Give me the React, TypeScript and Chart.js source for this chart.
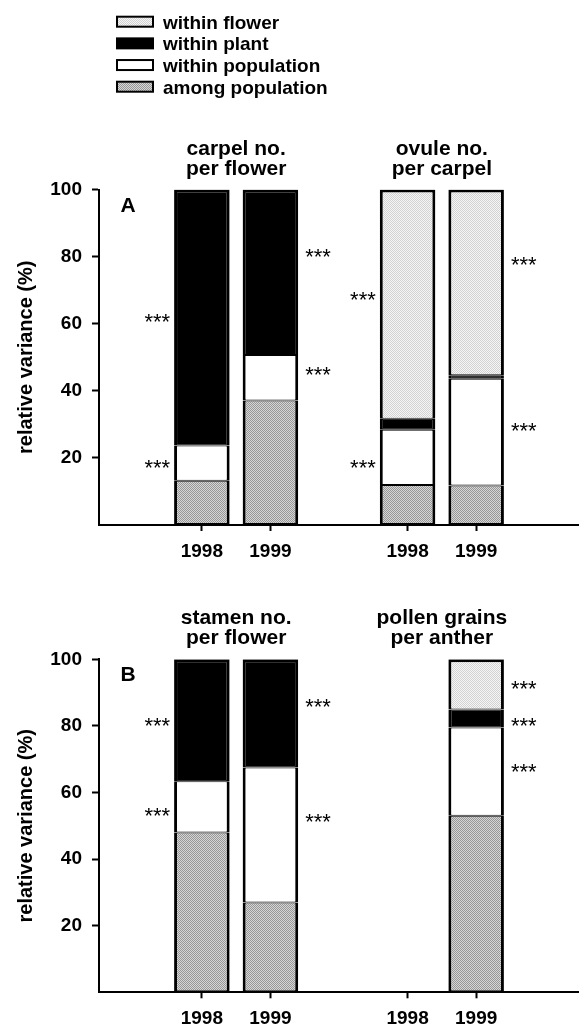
import React, { useEffect, useRef } from 'react';
import { Chart, registerables } from 'chart.js';

Chart.register(...registerables);

const FONT = '"Liberation Sans", Arial, Helvetica, sans-serif';

// ---- data ----
const categories = ['', '1998', '1999', '', '1998', '1999', ''];
const yTicks = [20, 40, 60, 80, 100];
const seriesNames = ['among population', 'within population', 'within plant', 'within flower'];
const legendOrder = ['within flower', 'within plant', 'within population', 'among population'];

// panel A (carpel no. per flower | ovule no. per carpel)
const amongA = [null, 13.2, 37.1, null, 11.9, 11.8, null];
const withinPopA = [null, 10.5, 13.6, null, 16.5, 31.8, null];
const withinPlantA = [null, 76.3, 49.3, null, 3.3, 1.0, null];
const withinFlowerA = [null, 0, 0, null, 68.3, 55.4, null];

// panel B (stamen no. per flower | pollen grains per anther)
const amongB = [null, 48.0, 27.0, null, null, 53.0, null];
const withinPopB = [null, 15.4, 40.5, null, null, 26.5, null];
const withinPlantB = [null, 36.6, 32.5, null, null, 5.4, null];
const withinFlowerB = [null, 0, 0, null, null, 15.1, null];

const groupTitlesA = [['carpel no.', 'per flower'], ['ovule no.', 'per carpel']];
const groupTitlesB = [['stamen no.', 'per flower'], ['pollen grains', 'per anther']];

// significance marks: category index, side of bar, value (%)
const starCatsA = [1, 1, 2, 2, 4, 4, 5, 5];
const starSidesA = ['left', 'left', 'right', 'right', 'left', 'left', 'right', 'right'];
const starValsA = [62.2, 18.6, 81.5, 46.3, 68.6, 18.7, 79.0, 29.7];

const starCatsB = [1, 1, 2, 2, 5, 5, 5];
const starSidesB = ['left', 'left', 'right', 'right', 'right', 'right', 'right'];
const starValsB = [81.7, 54.5, 87.3, 52.7, 92.7, 81.7, 67.9];

// ---- fills ----
function makePattern(c1: string, c2: string) {
  const cv = document.createElement('canvas');
  cv.width = 8;
  cv.height = 8;
  const g = cv.getContext('2d')!;
  for (let i = 0; i < 8; i++) {
    for (let j = 0; j < 8; j++) {
      g.fillStyle = (i + j) % 2 === 0 ? c1 : c2;
      g.fillRect(i, j, 1, 1);
    }
  }
  const base = document.createElement('canvas').getContext('2d')!;
  return base.createPattern(cv, 'repeat') as CanvasPattern;
}

function makeFills() {
  const among = makePattern('#979797', '#d6d6d6');
  const flower = makePattern('#d2d2d2', '#f6f6f6');
  return { among, pop: '#ffffff', plant: '#000000', flower };
}

function borderFor(ctx: any) {
  const i = ctx.dataIndex;
  const d = ctx.datasetIndex;
  const ds = ctx.chart.data.datasets;
  let isTop = true;
  for (let k = d + 1; k < ds.length; k++) {
    const v = ds[k].data[i];
    if (v != null && v > 0) isTop = false;
  }
  return { left: 3, right: 3, top: isTop ? 3 : 1, bottom: d === 0 ? 2 : 1 };
}

function decorPlugin(
  titles: string[][],
  letter: string,
  starCats: number[],
  starSides: string[],
  starVals: number[],
  legend: any
) {
  return {
    id: 'decor',
    afterDraw(chart: any) {
      const { ctx, chartArea } = chart;
      const x = chart.scales.x;
      const y = chart.scales.y;
      ctx.save();
      ctx.fillStyle = '#000';
      // group titles
      ctx.font = `bold 21px ${FONT}`;
      ctx.textAlign = 'center';
      ctx.textBaseline = 'alphabetic';
      titles.forEach((lines, g) => {
        const cx = (x.getPixelForValue(g * 3 + 1) + x.getPixelForValue(g * 3 + 2)) / 2;
        lines.forEach((t, li) => ctx.fillText(t, cx, chartArea.top - 35 + li * 20));
      });
      // panel letter
      ctx.textAlign = 'center';
      ctx.fillText(letter, chartArea.left + 29, chartArea.top + 22);
      // asterisks
      const meta = chart.getDatasetMeta(0);
      ctx.font = `22px ${FONT}`;
      starCats.forEach((ci, k) => {
        const el = meta.data[ci];
        const half = el.width / 2;
        const py = y.getPixelForValue(starVals[k]) + 12.5;
        if (starSides[k] === 'left') {
          ctx.textAlign = 'right';
          ctx.fillText('***', el.x - half - 4, py);
        } else {
          ctx.textAlign = 'left';
          ctx.fillText('***', el.x + half + 7, py);
        }
      });
      // legend
      if (legend) {
        ctx.font = `bold 19px ${FONT}`;
        ctx.textAlign = 'left';
        legendOrder.forEach((name, r) => {
          const cy = 21.7 + r * 21.67;
          const f = legend[name];
          ctx.fillStyle = f;
          ctx.fillRect(117, cy - 5, 36, 10);
          ctx.strokeStyle = '#000';
          ctx.lineWidth = 2;
          ctx.strokeRect(117, cy - 5, 36, 10);
          ctx.fillStyle = '#000';
          ctx.fillText(name, 163, cy + 6.8);
        });
      }
      ctx.restore();
    },
  };
}

function buildChart(
  canvas: HTMLCanvasElement,
  series: (number | null)[][],
  padTop: number,
  xHeight: number,
  plugin: any,
  fills: any
) {
  const fillList = [fills.among, fills.pop, fills.plant, fills.flower];
  const datasets = series.map((data, i) => ({
    label: seriesNames[i],
    data,
    backgroundColor: fillList[i],
    borderColor: '#000',
    borderWidth: (c: any) => borderFor(c),
    borderSkipped: false,
    barPercentage: 0.81,
    categoryPercentage: 1,
    stack: 's',
  }));
  return new Chart(canvas, {
    type: 'bar',
    data: { labels: categories, datasets },
    options: {
      responsive: false,
      animation: false,
      devicePixelRatio: 1,
      layout: { padding: { top: padTop, left: 0, right: 0, bottom: 0 } },
      plugins: { legend: { display: false }, tooltip: { enabled: false } },
      scales: {
        x: {
          type: 'category',
          stacked: true,
          offset: true,
          grid: {
            offset: false,
            drawOnChartArea: false,
            drawTicks: true,
            tickLength: 6,
            tickWidth: 2,
            tickColor: (c: any) => (categories[c.index] ? '#000' : 'rgba(0,0,0,0)'),
          },
          border: { display: true, color: '#000', width: 2 },
          ticks: {
            color: '#000',
            font: { family: FONT, size: 19, weight: 'bold' },
            padding: 9,
            autoSkip: false,
            maxRotation: 0,
          },
          afterFit: (s: any) => {
            s.height = xHeight;
          },
        },
        y: {
          stacked: true,
          min: 0,
          max: 100,
          afterBuildTicks: (s: any) => {
            s.ticks = yTicks.map((v) => ({ value: v }));
          },
          grid: {
            drawOnChartArea: false,
            drawTicks: true,
            tickLength: 7,
            tickWidth: 2,
            tickColor: '#000',
          },
          border: { display: true, color: '#000', width: 2 },
          ticks: {
            color: '#000',
            font: { family: FONT, size: 19, weight: 'bold' },
            padding: 10,
          },
          title: {
            display: true,
            text: 'relative variance (%)',
            color: '#000',
            font: { family: FONT, size: 20, weight: 'bold', lineHeight: 1.2 },
            padding: { top: 14, bottom: 0 },
          },
          afterFit: (s: any) => {
            s.width = 99;
          },
        },
      },
    },
    plugins: [plugin],
  } as any);
}

export default function App() {
  const refA = useRef<HTMLCanvasElement>(null);
  const refB = useRef<HTMLCanvasElement>(null);

  useEffect(() => {
    const fills = makeFills();
    const legendFills = {
      'within flower': fills.flower,
      'within plant': fills.plant,
      'within population': fills.pop,
      'among population': fills.among,
    };
    const a = buildChart(
      refA.current!,
      [amongA, withinPopA, withinPlantA, withinFlowerA],
      189.5,
      55,
      decorPlugin(groupTitlesA, 'A', starCatsA, starSidesA, starValsA, legendFills),
      fills
    );
    const b = buildChart(
      refB.current!,
      [amongB, withinPopB, withinPlantB, withinFlowerB],
      79.3,
      36.7,
      decorPlugin(groupTitlesB, 'B', starCatsB, starSidesB, starValsB, null),
      fills
    );
    return () => {
      a.destroy();
      b.destroy();
    };
  }, []);

  return (
    <div style={{ position: 'absolute', left: 0, top: 0, width: 579, height: 1029, background: '#fff', overflow: 'hidden' }}>
      <canvas ref={refA} width={579} height={580} style={{ position: 'absolute', left: 0, top: 0, display: 'block' }} />
      <canvas ref={refB} width={579} height={449} style={{ position: 'absolute', left: 0, top: 580, display: 'block' }} />
    </div>
  );
}
